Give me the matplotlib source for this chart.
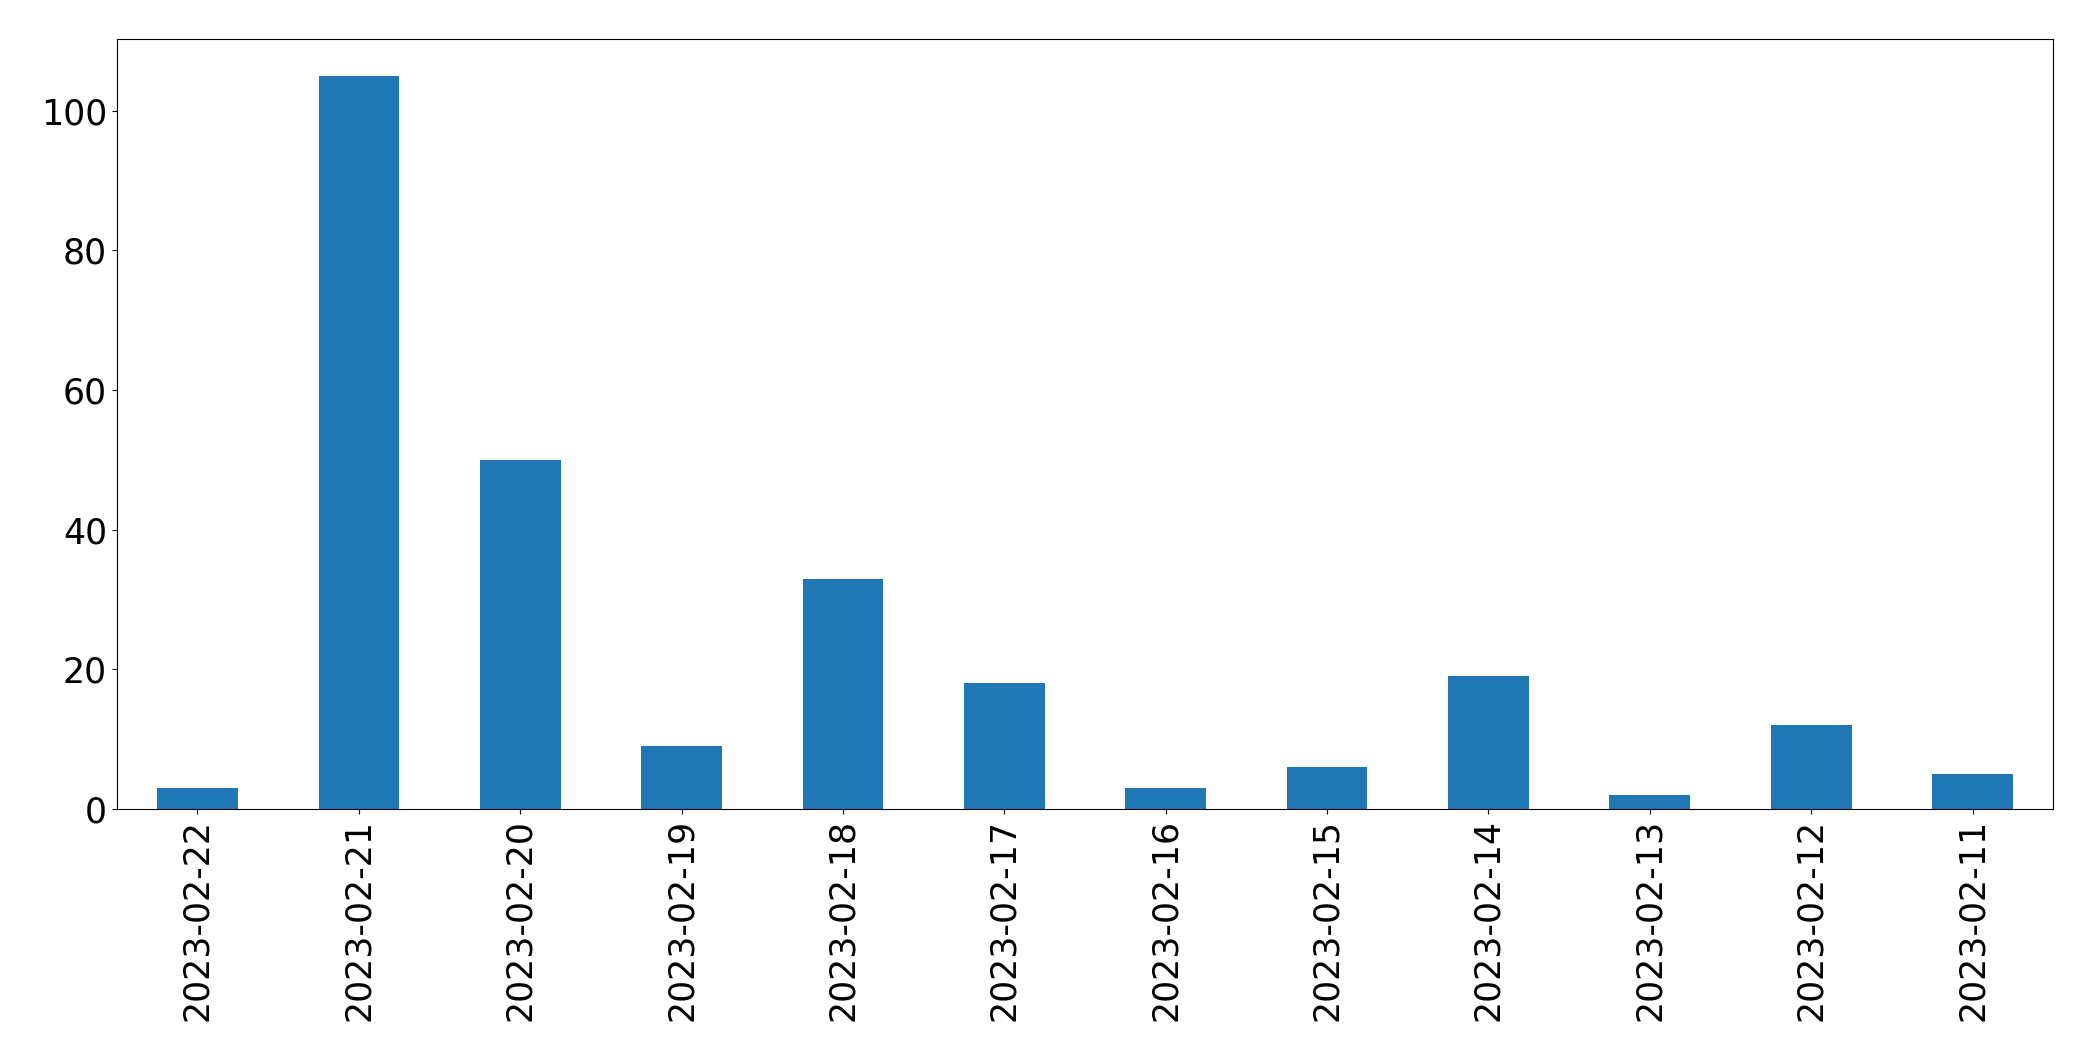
import matplotlib
matplotlib.use("Agg")
import matplotlib.pyplot as plt
import numpy as np

dates = ["2023-02-22", "2023-02-21", "2023-02-20", "2023-02-19", "2023-02-18",
         "2023-02-17", "2023-02-16", "2023-02-15", "2023-02-14", "2023-02-13",
         "2023-02-12", "2023-02-11"]
counts = [3, 105, 50, 9, 33, 18, 3, 6, 19, 2, 12, 5]

fig = plt.figure(figsize=(20.93, 10.61), dpi=100)
ax = fig.add_axes([0.0558, 0.2375, 0.9252, 0.7257])

x = np.arange(len(dates))
ax.bar(x, counts, width=0.5, color="#1f77b4")
ax.set_xlim(-0.5, len(dates) - 0.5)
ax.set_ylim(0, max(counts) * 1.05)
ax.set_xticks(x)
ax.set_xticklabels(dates, rotation=90)
ax.tick_params(axis="both", labelsize=25)

fig.savefig("out.png", dpi=100)
